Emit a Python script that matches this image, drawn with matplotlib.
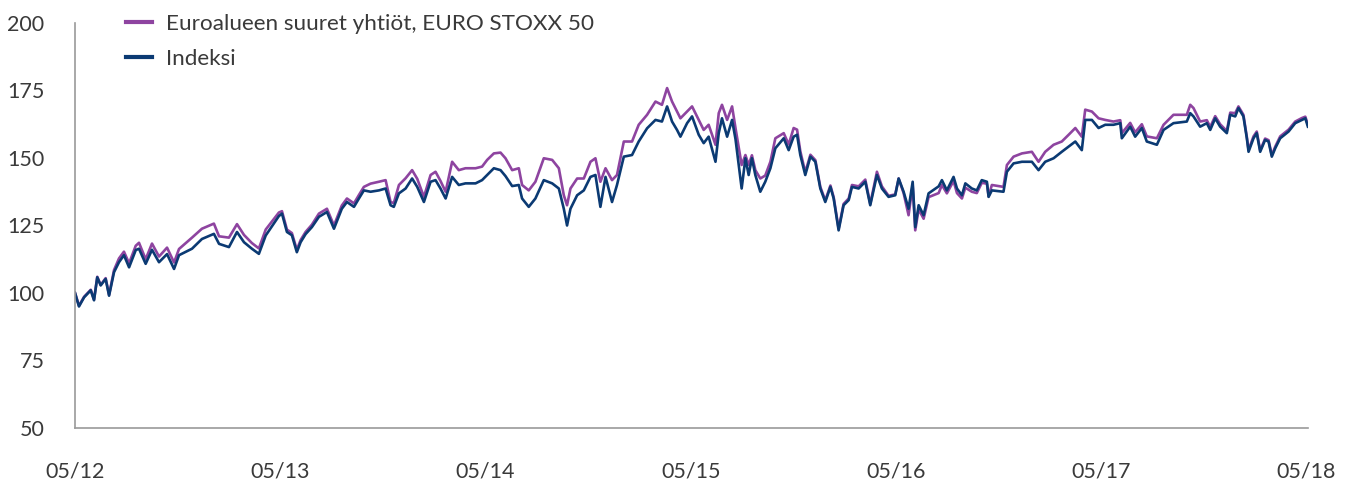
import matplotlib
matplotlib.use("Agg")
import matplotlib.pyplot as plt

# time axis: months since 05/2012
months = [
    0.0, 0.23, 0.53, 0.92, 1.11, 1.30, 1.50, 1.79, 1.99, 2.28, 2.57, 2.86, 3.16, 3.55, 3.74,
    4.13, 4.50, 4.91, 5.38, 5.79, 6.08, 6.84, 7.42, 8.12, 8.42, 9.00, 9.47, 9.88, 10.34, 10.75,
    11.15, 11.92, 12.10, 12.39, 12.68, 12.97, 13.19, 13.48, 13.85, 14.26, 14.73, 15.14, 15.60,
    15.90, 16.31, 16.60, 16.89, 17.28, 17.77, 18.16, 18.45, 18.64, 18.94, 19.33, 19.71, 20.01,
    20.40, 20.79, 21.08, 21.37, 21.67, 22.05, 22.44, 22.83, 23.42, 23.80, 24.10, 24.49, 24.88,
    25.17, 25.56, 25.95, 26.14, 26.53, 26.92, 27.41, 27.90, 28.29, 28.58, 28.77, 28.97, 29.36,
    29.75, 30.14, 30.43, 30.72, 31.02, 31.40, 31.69, 32.09, 32.57, 32.96, 33.45, 33.94, 34.32,
    34.62, 34.91, 35.20, 35.40, 35.79, 36.08, 36.47, 36.76, 37.05, 37.45, 37.64, 37.83, 38.13,
    38.42, 38.62, 38.98, 39.20, 39.39, 39.58, 39.78, 40.07, 40.36, 40.66, 40.95, 41.44, 41.73,
    42.02, 42.22, 42.41, 42.70, 43.00, 43.29, 43.58, 43.87, 44.17, 44.36, 44.65, 44.94, 45.24,
    45.43, 45.82, 46.21, 46.50, 46.89, 47.18, 47.57, 47.96, 48.16, 48.45, 48.74, 48.98, 49.13,
    49.33, 49.62, 49.91, 50.50, 50.69, 50.98, 51.37, 51.57, 51.86, 52.06, 52.44, 52.73, 53.02,
    53.32, 53.42, 53.61, 54.29, 54.49, 54.88, 55.37, 55.95, 56.34, 56.73, 57.22, 57.70, 58.10,
    58.49, 58.87, 59.07, 59.46, 59.85, 60.24, 60.72, 61.12, 61.21, 61.70, 61.99, 62.38, 62.67,
    63.26, 63.65, 64.23, 65.01, 65.21, 65.40, 65.79, 66.18, 66.38, 66.67, 66.96, 67.35, 67.55,
    67.84, 68.03, 68.32, 68.52, 68.62, 68.91, 69.10, 69.30, 69.59, 69.79, 69.98, 70.18, 70.47,
    70.96, 71.35, 71.74, 71.94, 72.09,
]

indeksi = [
    100.0, 95.0, 98.4, 101.0, 97.3, 105.8, 102.8, 105.2, 99.0, 107.7, 111.4, 114.0, 109.5, 115.9, 116.4,
    110.8, 116.0, 111.4, 114.4, 108.9, 114.0, 116.4, 120.0, 121.9, 118.2, 117.0, 122.6, 118.8, 116.4, 114.5,
    121.3, 128.5, 129.4, 122.6, 121.4, 115.1, 118.8, 121.8, 124.4, 128.2, 130.0, 123.8, 131.2,
    133.7, 131.9, 135.0, 138.0, 137.5, 138.0, 138.7, 132.5, 131.9, 136.9, 138.7, 142.4, 139.3,
    133.7, 141.2, 141.8, 138.7, 135.0, 143.0, 140.0, 140.6, 140.6, 141.8, 143.7, 146.2, 145.5,
    143.3, 139.6, 140.0, 135.0, 131.9, 135.0, 141.8, 140.6, 138.7, 131.2, 125.0, 131.2, 136.2,
    138.0, 143.0, 143.7, 131.9, 143.0, 133.7, 140.0, 150.5, 151.1, 156.1, 161.0, 164.1, 163.5,
    169.1, 163.5, 160.4, 157.9, 162.9, 165.4, 158.6, 155.5, 157.9, 148.6, 159.2, 164.7, 157.9,
    164.1, 157.0, 138.7, 149.9, 143.7, 149.9, 143.7, 137.5, 141.2, 146.2, 153.6, 157.3, 152.9,
    157.9, 158.6, 151.1, 143.7, 150.5, 148.6, 138.7, 133.7, 139.3, 135.0, 123.2, 132.5, 134.4,
    139.3, 138.7, 141.2, 132.5, 143.7, 138.7, 135.6, 136.2, 142.4, 137.5, 131.2, 141.2, 124.4,
    132.5, 128.8, 136.9, 139.5, 141.8, 138.0, 143.0, 138.7, 136.2, 140.6, 138.7, 138.0, 141.8,
    141.2, 135.6, 138.0, 137.5, 144.9, 148.0, 148.6, 148.6, 145.5, 148.6, 149.9, 152.3, 154.2,
    156.1, 152.9, 164.1, 164.1, 161.1, 162.3, 162.3, 162.9, 157.3, 161.6, 157.9, 161.1, 156.1,
    154.9, 160.4, 162.9, 163.5, 166.6, 165.4, 161.6, 162.9, 160.4, 164.7, 161.6, 159.2, 166.0,
    165.4, 168.5, 165.4, 157.3, 152.3, 157.3, 159.2, 152.3, 156.7, 156.1, 150.5, 153.6, 157.3,
    159.8, 162.9, 164.1, 164.7, 161.6,
]

stoxx50 = [
    100.0, 95.3, 98.6, 101.2, 97.5, 106.0, 103.0, 105.5, 99.3, 108.5, 112.8, 115.3, 111.0, 117.5, 118.6,
    112.5, 118.3, 113.5, 116.8, 111.3, 116.3, 120.5, 123.8, 125.7, 121.0, 120.5, 125.5, 121.5, 118.5, 116.5,
    123.5, 129.8, 130.3, 123.5, 122.2, 116.0, 119.6, 122.6, 125.3, 129.4, 131.2, 125.0, 132.4,
    135.0, 133.2, 136.3, 139.3, 140.5, 141.2, 141.8, 133.7, 133.3, 140.0, 142.5, 145.5, 142.3,
    135.6, 143.7, 144.9, 141.5, 137.5, 148.6, 145.5, 146.2, 146.2, 146.8, 149.3, 151.7, 152.0,
    149.9, 145.5, 146.2, 140.0, 138.0, 141.2, 149.9, 149.3, 146.2, 136.2, 132.5, 138.7, 142.4,
    142.4, 148.6, 149.9, 141.2, 146.2, 141.8, 143.7, 156.1, 156.1, 162.3, 166.0, 170.9, 169.7,
    175.9, 170.9, 167.2, 164.7, 167.2, 169.1, 164.1, 160.4, 162.3, 154.9, 166.6, 169.7, 164.1,
    169.1, 161.1, 147.4, 151.1, 147.4, 151.0, 145.5, 142.4, 143.5, 148.6, 157.3, 159.2, 155.0,
    161.1, 160.5, 152.5, 144.7, 151.2, 149.2, 139.3, 134.3, 139.8, 135.5, 123.8, 133.0, 135.0,
    140.0, 139.5, 142.0, 133.0, 144.9, 139.5, 136.0, 136.5, 142.4, 137.0, 128.8, 140.0, 123.2,
    131.0, 127.5, 135.5, 137.0, 140.0, 136.9, 141.5, 137.0, 135.0, 139.0, 137.5, 137.0, 140.8,
    140.5, 135.8, 140.0, 139.3, 147.4, 150.5, 151.7, 152.3, 148.6, 152.3, 154.9, 156.1, 158.6,
    161.1, 157.9, 167.9, 167.2, 164.7, 164.1, 163.5, 164.0, 159.2, 163.0, 159.5, 162.5, 158.0,
    157.3, 162.3, 166.0, 166.0, 169.7, 168.5, 163.5, 164.0, 161.5, 165.5, 162.5, 160.0, 166.8,
    166.6, 169.1, 166.0, 157.8, 153.0, 158.0, 159.8, 152.8, 157.2, 156.6, 151.0, 154.2, 158.0,
    160.5, 163.5, 164.8, 165.3, 162.3,
]

tick_pos = [0, 12, 24, 36, 48, 60, 72]
tick_labels = ["05/12", "05/13", "05/14", "05/15", "05/16", "05/17", "05/18"]
y_ticks = [50, 75, 100, 125, 150, 175, 200]

plt.rcParams['font.family'] = ['Lato', 'DejaVu Sans']

fig = plt.figure(figsize=(13.52, 4.79), dpi=100)
ax = fig.add_axes([0.0555, 0.1065, 0.912, 0.8455])

ax.plot(months, stoxx50, color="#8e44a0", lw=1.9, label="Euroalueen suuret yhtiöt, EURO STOXX 50")
ax.plot(months, indeksi, color="#0b3a73", lw=1.9, label="Indeksi")

ax.set_xlim(0, 72.1)
ax.set_ylim(50, 200)
ax.set_xticks(tick_pos)
ax.set_xticklabels(tick_labels)
ax.set_yticks(y_ticks)

for s in ["top", "right"]:
    ax.spines[s].set_visible(False)
for s in ["left", "bottom"]:
    ax.spines[s].set_color("#9a9a9a")
    ax.spines[s].set_linewidth(1.2)

ax.tick_params(axis="both", length=0, labelsize=15.5, colors="#3a3a3a")
ax.tick_params(axis="x", pad=24)
ax.tick_params(axis="y", pad=22)

leg = ax.legend(loc="upper left", bbox_to_anchor=(0.025, 1.072), frameon=False,
                fontsize=16.2, handlelength=1.15, handletextpad=0.62, labelspacing=0.66)
for t in leg.get_texts():
    t.set_color("#3a3a3a")
for h in leg.get_lines():
    h.set_linewidth(3)

fig.savefig("out.png", dpi=100)
